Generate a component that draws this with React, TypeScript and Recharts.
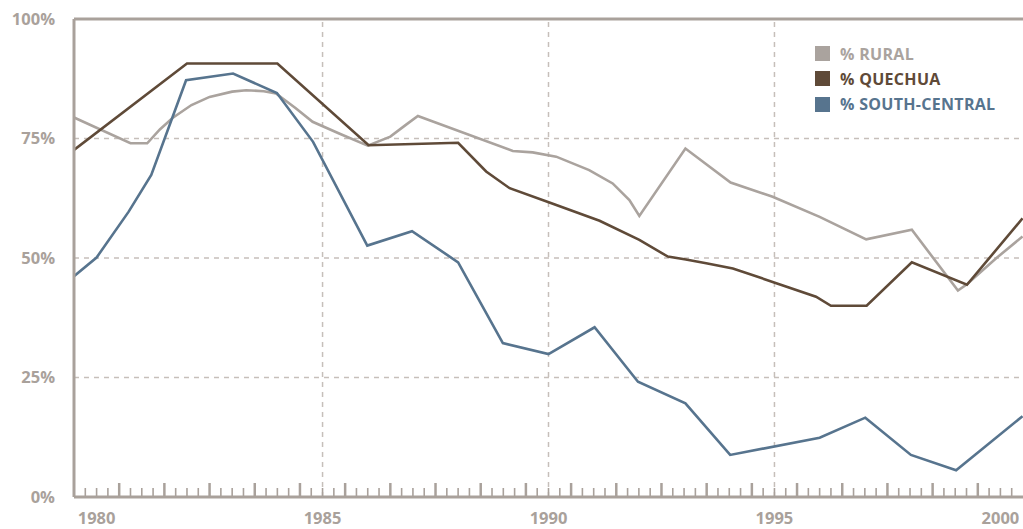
import React from "react";
import { LineChart, Line, XAxis, YAxis, ReferenceLine } from "recharts";

// ---- data (decimal years, percent values) ----
const ruralYears = [
  1979.5, 1980.75, 1981.12, 1981.4, 1981.68, 1982.1, 1982.5, 1983.0, 1983.31, 1983.7, 1983.97,
  1984.4, 1984.78, 1985.38, 1986.0, 1986.5, 1986.85, 1987.11, 1989.21, 1989.65, 1990.17,
  1990.9, 1991.42, 1991.79, 1992.01, 1993.03, 1994.03, 1994.96, 1996.0, 1997.03, 1998.04,
  1999.06, 1999.26, 1999.9, 2000.49,
];
const ruralValues = [
  79.4, 74.0, 74.0, 76.9, 79.3, 82.0, 83.7, 84.8, 85.1, 84.9, 84.4,
  81.4, 78.5, 76.0, 73.5, 75.4, 77.9, 79.7, 72.4, 72.1, 71.2,
  68.4, 65.6, 62.1, 58.8, 72.9, 65.8, 62.8, 58.6, 53.9, 55.9,
  43.2, 44.5, 49.9, 54.5,
];

const quechuaYears = [
  1979.5, 1982.0, 1984.0, 1986.02, 1988.0, 1988.62, 1989.14, 1990.02, 1991.13, 1992.01,
  1992.64, 1993.04, 1993.49, 1994.08, 1994.96, 1995.92, 1996.25, 1997.04, 1998.04, 1999.26,
  2000.49,
];
const quechuaValues = [
  72.6, 90.7, 90.7, 73.6, 74.1, 68.1, 64.6, 61.6, 57.8, 53.8,
  50.3, 49.7, 48.9, 47.8, 45.0, 41.9, 40.0, 40.0, 49.1, 44.4,
  58.3,
];

const southYears = [
  1979.5, 1980.0, 1980.71, 1981.21, 1981.98, 1983.02, 1983.99, 1984.79, 1985.99, 1986.98,
  1988.0, 1988.99, 1990.0, 1991.02, 1991.98, 1993.03, 1994.02, 1996.0, 1997.01, 1998.02,
  1999.02, 2000.49,
];
const southValues = [
  46.2, 50.1, 59.7, 67.4, 87.2, 88.6, 84.5, 74.3, 52.6, 55.6,
  49.1, 32.2, 29.9, 35.5, 24.1, 19.6, 8.8, 12.4, 16.6, 8.8,
  5.6, 16.9,
];

const yearLabels = [1980, 1985, 1990, 1995, 2000];
const yTicks = [0, 25, 50, 75, 100];
const gridYears = [1985, 1990, 1995];
const gridValues = [25, 50, 75];
const minorTicks: number[] = Array.from({ length: 83 }, (_, i) => 1979.75 + i * 0.25);

const seriesNames = ["% RURAL", "% QUECHUA", "% SOUTH-CENTRAL"];

// ---- styles ----
const AXIS = "#a9a19b";
const GRID = "#c6bfba";
const C_RURAL = "#aaa39e";
const C_QUECHUA = "#5f4a38";
const C_SOUTH = "#57748e";
const FONT = "'Open Sans', 'DejaVu Sans', sans-serif";

const zip = (xs: number[], ys: number[]) => xs.map((year, i) => ({ year, value: ys[i] }));
const ruralData = zip(ruralYears, ruralValues);
const quechuaData = zip(quechuaYears, quechuaValues);
const southData = zip(southYears, southValues);

const XTick = (props: any) => {
  const { x, y, payload } = props;
  const v: number = payload.value;
  const frac = v - Math.floor(v);
  const isLong = Math.abs(frac - 0.5) < 1e-6;
  const isLabel = yearLabels.some((l) => Math.abs(l - v) < 1e-6);
  return (
    <g>
      <line
        x1={x}
        x2={x}
        y1={y}
        y2={y - (isLong ? 14 : 9)}
        stroke={AXIS}
        strokeWidth={isLong ? 2.5 : 1.6}
      />
      {isLabel && (
        <text
          x={x}
          y={y + 27}
          textAnchor="middle"
          fill={AXIS}
          fontFamily={FONT}
          fontWeight={700}
          fontSize={16.5}
        >
          {Math.round(v)}
        </text>
      )}
    </g>
  );
};

const LegendBox = () => {
  const colors = [C_RURAL, C_QUECHUA, C_SOUTH];
  return (
    <div style={{ position: "absolute", left: 815, top: 41, fontFamily: FONT }}>
      {seriesNames.map((name, i) => (
        <div
          key={name}
          style={{ display: "flex", alignItems: "center", height: 25.3, whiteSpace: "nowrap" }}
        >
          <div style={{ width: 15, height: 15, background: colors[i], marginRight: 10 }} />
          <span style={{ color: colors[i], fontWeight: 700, fontSize: 16, lineHeight: "16px", letterSpacing: 0.3 }}>
            {name}
          </span>
        </div>
      ))}
    </div>
  );
};

export default function App() {
  return (
    <div style={{ position: "absolute", left: 0, top: 0, width: 1023, height: 529, background: "#fff" }}>
      <LineChart width={1023} height={529} margin={{ top: 19, right: 0, bottom: 0, left: 0 }}>
        <XAxis
          type="number"
          dataKey="year"
          domain={[1979.5, 2000.5]}
          allowDataOverflow
          ticks={minorTicks}
          interval={0}
          tick={<XTick />}
          tickLine={false}
          tickSize={0}
          tickMargin={0}
          axisLine={{ stroke: AXIS, strokeWidth: 3 }}
          height={32}
        />
        <YAxis
          type="number"
          domain={[0, 100]}
          ticks={yTicks}
          interval={0}
          width={74}
          tickFormatter={(v: number) => `${v}%`}
          tick={{ fill: AXIS, fontSize: 16.5, fontWeight: 700, fontFamily: FONT }}
          tickLine={false}
          tickSize={0}
          tickMargin={19}
          axisLine={{ stroke: AXIS, strokeWidth: 3 }}
        />
        {gridValues.map((v) => (
          <ReferenceLine key={`h${v}`} y={v} stroke={GRID} strokeWidth={1.5} strokeDasharray="5 5" />
        ))}
        {gridYears.map((yr) => (
          <ReferenceLine key={`v${yr}`} x={yr} stroke={GRID} strokeWidth={1.5} strokeDasharray="5 5" />
        ))}
        <ReferenceLine y={100} stroke={AXIS} strokeWidth={3} />
        <Line
          data={ruralData}
          dataKey="value"
          name={seriesNames[0]}
          type="linear"
          stroke={C_RURAL}
          strokeWidth={2.6}
          dot={false}
          activeDot={false}
          isAnimationActive={false}
        />
        <Line
          data={quechuaData}
          dataKey="value"
          name={seriesNames[1]}
          type="linear"
          stroke={C_QUECHUA}
          strokeWidth={2.6}
          dot={false}
          activeDot={false}
          isAnimationActive={false}
        />
        <Line
          data={southData}
          dataKey="value"
          name={seriesNames[2]}
          type="linear"
          stroke={C_SOUTH}
          strokeWidth={2.6}
          dot={false}
          activeDot={false}
          isAnimationActive={false}
        />
      </LineChart>
      <LegendBox />
    </div>
  );
}
